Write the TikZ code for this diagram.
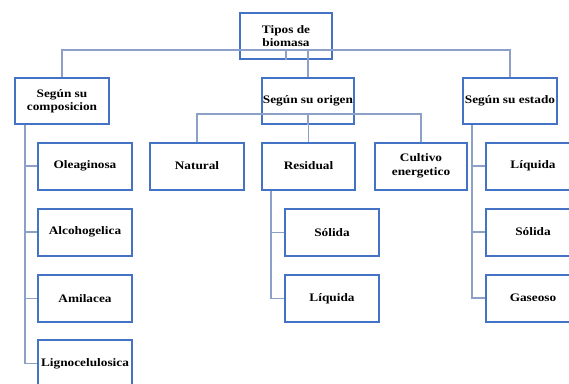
\documentclass[tikz,border=0pt]{standalone}
\usepackage{fontspec}
\setmainfont[FakeStretch=1.16]{Liberation Serif}
\definecolor{boxblue}{HTML}{4472C4}
\definecolor{linkblue}{HTML}{8CA0C8}
\begin{document}
\begin{tikzpicture}[x=1bp,y=-1bp,
  box/.style={draw=boxblue, line width=2bp, fill=white, inner sep=0pt,
    minimum width=94bp, minimum height=46bp, align=center,
    font=\fontsize{11.5}{13.5}\selectfont\bfseries},
  link/.style={draw=linkblue, line width=1.4bp}]
\useasboundingbox (0,0) rectangle (569,383);
% level 0
\node[box, minimum width=92bp] (top) at (286,36) {Tipos de\\biomasa};
% level 1
\node[box] (comp) at (62,101) {Según su\\composicion};
\node[box, minimum width=92bp] (orig) at (308,101) {Según su origen};
\node[box] (est) at (510,101) {Según su estado};
% composicion children
\node[box, minimum height=47bp] (ole) at (85,166) {Oleaginosa};
\node[box, minimum height=47bp] (alc) at (85,232) {Alcohogelica};
\node[box, minimum height=47bp] (ami) at (85,298.5) {Amilacea};
\node[box, minimum height=47bp] (lig) at (85,363.5) {Lignocelulosica};
% origen children
\node[box, minimum height=47bp] (nat) at (197,166) {Natural};
\node[box, minimum height=47bp, minimum width=93bp] (res) at (308.5,166) {Residual};
\node[box, minimum height=47bp, minimum width=92bp] (cul) at (421,166) {Cultivo\\energetico};
\node[box, minimum height=47bp] (sol) at (332,232.5) {Sólida};
\node[box, minimum height=47bp] (liq) at (332,298.5) {Líquida};
% estado children
\node[box, minimum height=47bp] (eliq) at (533,166) {Líquida};
\node[box, minimum height=47bp] (esol) at (533,232) {Sólida};
\node[box, minimum height=47bp] (egas) at (533,298) {Gaseoso};
% connectors level 0 -> 1
\coordinate (h0) at ([yshift=10bp]top.south);
\draw[link] (top.south) -- (h0);
\draw[link] (comp.north) |- (h0) -| (est.north);
\draw[link] (orig.north) -- (orig.north |- h0);
% composicion
\coordinate (cv) at ([xshift=11bp]comp.south west);
\draw[link] (cv) |- (lig.west);
\draw[link] (ole.west) -- (ole.west -| cv);
\draw[link] (alc.west) -- (alc.west -| cv);
\draw[link] (ami.west) -- (ami.west -| cv);
% origen
\coordinate (h1) at ([yshift=11bp]orig.south);
\draw[link] (orig.south) -- (h1);
\draw[link] (nat.north) |- (h1) -| (cul.north);
\draw[link] (res.north) -- (res.north |- h1);
% residual
\coordinate (rv) at ([xshift=10bp]res.south west);
\draw[link] (rv) |- (liq.west);
\draw[link] (sol.west) -- (sol.west -| rv);
% estado
\coordinate (ev) at ([xshift=10bp]est.south west);
\draw[link] (ev) |- (egas.west);
\draw[link] (eliq.west) -- (eliq.west -| ev);
\draw[link] (esol.west) -- (esol.west -| ev);
\end{tikzpicture}
\end{document}
